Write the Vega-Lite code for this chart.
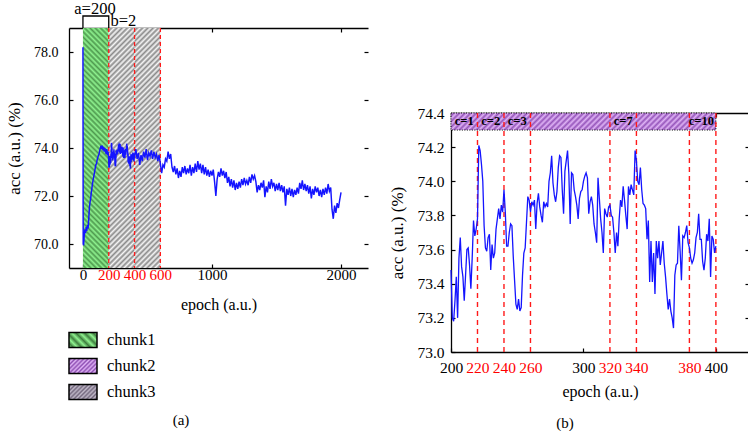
{
"$schema": "https://vega.github.io/schema/vega-lite/v6.json",
"padding": {"left": 5, "top": 1, "right": 1, "bottom": 1},
"config": {
  "font": "Liberation Serif, DejaVu Serif, serif",
  "view": {"stroke": null},
  "axis": {"grid": false, "domainColor": "black", "tickColor": "black", "titleColor": "black", "titleFontWeight": "normal", "domainWidth": 1.3, "tickWidth": 1.2, "labelFont": "Liberation Serif, DejaVu Serif, serif", "titleFont": "Liberation Serif, DejaVu Serif, serif"},
  "title": {"font": "Liberation Serif, DejaVu Serif, serif", "fontWeight": "normal", "fontSize": 15, "color": "black"},
  "text": {"font": "Liberation Serif, DejaVu Serif, serif", "color": "black"}
},
"datasets": {
"acc": [
{"e":0,"a":78.2},{"e":2,"a":70.0},{"e":5,"a":69.95},{"e":10,"a":70.35},{"e":15,"a":70.6},{"e":20,"a":70.45},{"e":25,"a":70.7},{"e":30,"a":70.55},{"e":35,"a":70.8},{"e":40,"a":70.65},{"e":45,"a":71.05},{"e":50,"a":71.5},{"e":55,"a":71.75},{"e":60,"a":71.9},{"e":65,"a":72.15},{"e":70,"a":72.35},{"e":75,"a":72.55},{"e":80,"a":72.7},{"e":85,"a":72.85},{"e":90,"a":73.0},{"e":95,"a":73.15},{"e":100,"a":73.3},{"e":105,"a":73.35},{"e":110,"a":73.5},{"e":115,"a":73.6},{"e":120,"a":73.7},{"e":125,"a":73.75},{"e":130,"a":73.9},{"e":135,"a":74.0},{"e":140,"a":74.1},{"e":145,"a":73.95},{"e":150,"a":74.1},{"e":155,"a":73.9},{"e":160,"a":74.05},{"e":165,"a":73.85},{"e":170,"a":74.0},{"e":175,"a":73.85},{"e":180,"a":73.75},{"e":185,"a":73.95},{"e":190,"a":73.7},{"e":195,"a":73.85},
{"e":200,"a":73.48},{"e":201,"a":73.20},{"e":202,"a":73.18},{"e":203,"a":73.30},{"e":204,"a":73.44},{"e":205,"a":73.20},{"e":206,"a":73.55},{"e":207,"a":73.67},{"e":208,"a":73.50},{"e":209,"a":73.44},{"e":210,"a":73.30},{"e":211,"a":73.45},{"e":212,"a":73.60},{"e":213,"a":73.61},{"e":214,"a":73.51},{"e":215,"a":73.37},{"e":216,"a":73.55},{"e":217,"a":73.77},{"e":218,"a":73.68},{"e":219,"a":73.72},
{"e":220,"a":73.78},{"e":221,"a":74.21},{"e":222,"a":74.18},{"e":223,"a":74.10},{"e":224,"a":74.00},{"e":225,"a":73.74},{"e":226,"a":73.61},{"e":227,"a":73.59},{"e":228,"a":73.67},{"e":229,"a":73.69},{"e":230,"a":73.48},{"e":231,"a":73.63},{"e":232,"a":73.55},{"e":233,"a":73.58},{"e":234,"a":73.72},{"e":235,"a":73.78},{"e":236,"a":73.84},{"e":237,"a":73.78},{"e":238,"a":73.86},{"e":239,"a":73.82},
{"e":240,"a":73.95},{"e":241,"a":73.82},{"e":242,"a":73.62},{"e":243,"a":73.62},{"e":244,"a":73.70},{"e":245,"a":73.75},{"e":246,"a":73.74},{"e":247,"a":73.56},{"e":248,"a":73.42},{"e":249,"a":73.28},{"e":250,"a":73.25},{"e":251,"a":73.31},{"e":252,"a":73.24},{"e":253,"a":73.26},{"e":254,"a":73.45},{"e":255,"a":73.58},{"e":256,"a":73.61},{"e":257,"a":73.76},{"e":258,"a":73.91},{"e":259,"a":73.89},
{"e":260,"a":73.82},{"e":261,"a":73.88},{"e":262,"a":73.86},{"e":263,"a":73.89},{"e":264,"a":73.72},{"e":265,"a":73.87},{"e":266,"a":73.93},{"e":267,"a":73.85},{"e":268,"a":73.80},{"e":269,"a":73.76},{"e":270,"a":73.88},{"e":271,"a":73.85},{"e":272,"a":73.87},{"e":273,"a":73.85},{"e":274,"a":74.00},{"e":275,"a":74.05},{"e":276,"a":74.15},{"e":277,"a":73.99},{"e":278,"a":73.92},{"e":279,"a":73.88},
{"e":280,"a":73.94},{"e":281,"a":74.08},{"e":282,"a":74.15},{"e":283,"a":74.14},{"e":284,"a":73.95},{"e":285,"a":73.81},{"e":286,"a":74.06},{"e":287,"a":74.12},{"e":288,"a":74.18},{"e":289,"a":74.04},{"e":290,"a":73.75},{"e":291,"a":74.05},{"e":292,"a":74.04},{"e":293,"a":73.95},{"e":294,"a":73.91},{"e":295,"a":73.86},{"e":296,"a":73.78},{"e":297,"a":73.90},{"e":298,"a":73.94},{"e":299,"a":73.95},
{"e":300,"a":74.00},{"e":301,"a":74.03},{"e":302,"a":74.05},{"e":303,"a":74.02},{"e":304,"a":73.81},{"e":305,"a":73.88},{"e":306,"a":73.91},{"e":307,"a":73.86},{"e":308,"a":73.75},{"e":309,"a":73.70},{"e":310,"a":73.64},{"e":311,"a":74.02},{"e":312,"a":73.90},{"e":313,"a":73.78},{"e":314,"a":73.70},{"e":315,"a":73.58},{"e":316,"a":73.84},{"e":317,"a":73.81},{"e":318,"a":73.79},{"e":319,"a":73.85},
{"e":320,"a":73.86},{"e":321,"a":73.80},{"e":322,"a":73.79},{"e":323,"a":73.70},{"e":324,"a":73.58},{"e":325,"a":73.70},{"e":326,"a":73.62},{"e":327,"a":73.78},{"e":328,"a":73.89},{"e":329,"a":73.85},{"e":330,"a":73.97},{"e":331,"a":73.89},{"e":332,"a":73.80},{"e":333,"a":73.72},{"e":334,"a":73.97},{"e":335,"a":73.92},{"e":336,"a":73.98},{"e":337,"a":73.95},{"e":338,"a":73.92},{"e":339,"a":74.18},
{"e":340,"a":74.12},{"e":341,"a":74.00},{"e":342,"a":73.98},{"e":343,"a":74.08},{"e":344,"a":73.95},{"e":345,"a":73.87},{"e":346,"a":73.86},{"e":347,"a":73.84},{"e":348,"a":73.66},{"e":349,"a":73.77},{"e":350,"a":73.41},{"e":351,"a":73.65},{"e":352,"a":73.41},{"e":353,"a":73.58},{"e":354,"a":73.34},{"e":355,"a":73.65},{"e":356,"a":73.55},{"e":357,"a":73.65},{"e":358,"a":73.51},{"e":359,"a":73.58},
{"e":360,"a":73.65},{"e":361,"a":73.52},{"e":362,"a":73.44},{"e":363,"a":73.34},{"e":364,"a":73.25},{"e":365,"a":73.31},{"e":366,"a":73.24},{"e":367,"a":73.20},{"e":368,"a":73.14},{"e":369,"a":73.45},{"e":370,"a":73.51},{"e":371,"a":73.52},{"e":372,"a":73.74},{"e":373,"a":73.59},{"e":374,"a":73.42},{"e":375,"a":73.68},{"e":376,"a":73.67},{"e":377,"a":73.70},{"e":378,"a":73.74},{"e":379,"a":73.64},
{"e":380,"a":73.61},{"e":381,"a":73.55},{"e":382,"a":73.52},{"e":383,"a":73.54},{"e":384,"a":73.58},{"e":385,"a":73.67},{"e":386,"a":73.70},{"e":387,"a":73.81},{"e":388,"a":73.66},{"e":389,"a":73.66},{"e":390,"a":73.53},{"e":391,"a":73.48},{"e":392,"a":73.55},{"e":393,"a":73.69},{"e":394,"a":73.65},{"e":395,"a":73.78},{"e":396,"a":73.44},{"e":397,"a":73.68},{"e":398,"a":73.66},{"e":399,"a":73.58},
{"e":400,"a":73.62},{"e":410,"a":73.95},{"e":420,"a":73.55},{"e":430,"a":73.80},{"e":440,"a":73.30},{"e":450,"a":73.70},{"e":460,"a":73.45},{"e":470,"a":73.85},{"e":480,"a":73.60},{"e":490,"a":73.95},{"e":500,"a":73.50},{"e":510,"a":73.80},{"e":520,"a":73.65},{"e":530,"a":73.90},{"e":540,"a":73.55},{"e":550,"a":73.85},{"e":560,"a":73.60},{"e":570,"a":73.75},{"e":580,"a":73.45},{"e":590,"a":73.70},
{"e":600,"a":73.35},{"e":610,"a":72.95},{"e":620,"a":73.30},{"e":630,"a":73.20},{"e":640,"a":73.55},{"e":650,"a":73.45},{"e":660,"a":73.85},{"e":670,"a":73.55},{"e":680,"a":73.75},{"e":690,"a":73.20},{"e":700,"a":73.00},{"e":710,"a":73.25},{"e":720,"a":72.90},{"e":730,"a":73.15},{"e":740,"a":72.75},{"e":750,"a":73.05},{"e":760,"a":72.80},{"e":770,"a":73.20},{"e":780,"a":72.95},{"e":790,"a":73.25},
{"e":800,"a":72.90},{"e":810,"a":73.15},{"e":820,"a":72.95},{"e":830,"a":73.30},{"e":840,"a":72.85},{"e":850,"a":73.20},{"e":860,"a":72.95},{"e":870,"a":73.35},{"e":880,"a":73.00},{"e":890,"a":73.45},{"e":900,"a":73.10},{"e":910,"a":73.35},{"e":920,"a":72.95},{"e":930,"a":73.30},{"e":940,"a":72.90},{"e":950,"a":73.20},{"e":960,"a":72.85},{"e":970,"a":73.10},{"e":980,"a":72.80},{"e":990,"a":73.05},
{"e":1000,"a":72.85},{"e":1010,"a":73.10},{"e":1020,"a":72.60},{"e":1030,"a":72.00},{"e":1040,"a":72.70},{"e":1050,"a":73.00},{"e":1060,"a":72.80},{"e":1070,"a":73.15},{"e":1080,"a":72.85},{"e":1090,"a":73.05},{"e":1100,"a":72.75},{"e":1110,"a":73.00},{"e":1120,"a":72.55},{"e":1130,"a":72.80},{"e":1140,"a":72.40},{"e":1150,"a":72.70},{"e":1160,"a":72.35},{"e":1170,"a":72.65},{"e":1180,"a":72.25},{"e":1190,"a":72.55},
{"e":1200,"a":72.30},{"e":1210,"a":72.60},{"e":1220,"a":72.35},{"e":1230,"a":72.70},{"e":1240,"a":72.45},{"e":1250,"a":72.75},{"e":1260,"a":72.50},{"e":1270,"a":72.65},{"e":1280,"a":72.45},{"e":1290,"a":72.80},{"e":1300,"a":72.55},{"e":1310,"a":72.90},{"e":1320,"a":72.70},{"e":1330,"a":72.85},{"e":1340,"a":72.60},{"e":1350,"a":72.15},{"e":1360,"a":72.45},{"e":1370,"a":72.25},{"e":1380,"a":72.55},{"e":1390,"a":72.35},
{"e":1400,"a":72.65},{"e":1410,"a":71.95},{"e":1420,"a":72.40},{"e":1430,"a":72.15},{"e":1440,"a":72.60},{"e":1450,"a":72.30},{"e":1460,"a":72.70},{"e":1470,"a":72.40},{"e":1480,"a":72.55},{"e":1490,"a":72.20},{"e":1500,"a":72.50},{"e":1510,"a":72.25},{"e":1520,"a":72.55},{"e":1530,"a":72.20},{"e":1540,"a":72.45},{"e":1550,"a":72.15},{"e":1560,"a":72.40},{"e":1570,"a":71.60},{"e":1580,"a":72.30},{"e":1590,"a":72.05},
{"e":1600,"a":72.35},{"e":1610,"a":72.00},{"e":1620,"a":72.30},{"e":1630,"a":71.95},{"e":1640,"a":72.25},{"e":1650,"a":72.05},{"e":1660,"a":72.35},{"e":1670,"a":72.10},{"e":1680,"a":72.55},{"e":1690,"a":72.30},{"e":1700,"a":72.65},{"e":1710,"a":72.25},{"e":1720,"a":72.50},{"e":1730,"a":72.20},{"e":1740,"a":72.45},{"e":1750,"a":72.10},{"e":1760,"a":72.40},{"e":1770,"a":71.90},{"e":1780,"a":72.30},{"e":1790,"a":72.05},
{"e":1800,"a":72.40},{"e":1810,"a":72.15},{"e":1820,"a":72.35},{"e":1830,"a":72.00},{"e":1840,"a":72.25},{"e":1850,"a":71.95},{"e":1860,"a":72.30},{"e":1870,"a":72.05},{"e":1880,"a":72.35},{"e":1890,"a":72.10},{"e":1900,"a":72.50},{"e":1910,"a":72.20},{"e":1920,"a":72.35},{"e":1930,"a":71.45},{"e":1940,"a":71.05},{"e":1950,"a":71.60},{"e":1960,"a":71.30},{"e":1970,"a":71.70},{"e":1980,"a":71.50},{"e":1990,"a":71.85},{"e":2000,"a":72.15}
]
},
"spacing": 19,
"hconcat": [
{
  "bounds": "flush",
  "spacing": 59,
  "vconcat": [
  {
    "width": 299,
    "height": 240,
    "resolve": {"axis": {"x": "independent", "y": "independent"}},
    "layer": [
      {
        "data": {"values": [{"s": 0, "t": 200}]},
        "mark": {"type": "rect", "fill": {"gradient": "linear", "x1": 0, "y1": 1, "x2": 0.118, "y2": -0.094, "stops": [{"offset":0,"color":"#8ff28f"},{"offset":0.01,"color":"#4f9a4f"},{"offset":0.02,"color":"#8ff28f"},{"offset":0.03,"color":"#4f9a4f"},{"offset":0.04,"color":"#8ff28f"},{"offset":0.05,"color":"#4f9a4f"},{"offset":0.06,"color":"#8ff28f"},{"offset":0.07,"color":"#4f9a4f"},{"offset":0.08,"color":"#8ff28f"},{"offset":0.09,"color":"#4f9a4f"},{"offset":0.1,"color":"#8ff28f"},{"offset":0.11,"color":"#4f9a4f"},{"offset":0.12,"color":"#8ff28f"},{"offset":0.13,"color":"#4f9a4f"},{"offset":0.14,"color":"#8ff28f"},{"offset":0.15,"color":"#4f9a4f"},{"offset":0.16,"color":"#8ff28f"},{"offset":0.17,"color":"#4f9a4f"},{"offset":0.18,"color":"#8ff28f"},{"offset":0.19,"color":"#4f9a4f"},{"offset":0.2,"color":"#8ff28f"},{"offset":0.21,"color":"#4f9a4f"},{"offset":0.22,"color":"#8ff28f"},{"offset":0.23,"color":"#4f9a4f"},{"offset":0.24,"color":"#8ff28f"},{"offset":0.25,"color":"#4f9a4f"},{"offset":0.26,"color":"#8ff28f"},{"offset":0.27,"color":"#4f9a4f"},{"offset":0.28,"color":"#8ff28f"},{"offset":0.29,"color":"#4f9a4f"},{"offset":0.3,"color":"#8ff28f"},{"offset":0.31,"color":"#4f9a4f"},{"offset":0.32,"color":"#8ff28f"},{"offset":0.33,"color":"#4f9a4f"},{"offset":0.34,"color":"#8ff28f"},{"offset":0.35,"color":"#4f9a4f"},{"offset":0.36,"color":"#8ff28f"},{"offset":0.37,"color":"#4f9a4f"},{"offset":0.38,"color":"#8ff28f"},{"offset":0.39,"color":"#4f9a4f"},{"offset":0.4,"color":"#8ff28f"},{"offset":0.41,"color":"#4f9a4f"},{"offset":0.42,"color":"#8ff28f"},{"offset":0.43,"color":"#4f9a4f"},{"offset":0.44,"color":"#8ff28f"},{"offset":0.45,"color":"#4f9a4f"},{"offset":0.46,"color":"#8ff28f"},{"offset":0.47,"color":"#4f9a4f"},{"offset":0.48,"color":"#8ff28f"},{"offset":0.49,"color":"#4f9a4f"},{"offset":0.5,"color":"#8ff28f"},{"offset":0.51,"color":"#4f9a4f"},{"offset":0.52,"color":"#8ff28f"},{"offset":0.53,"color":"#4f9a4f"},{"offset":0.54,"color":"#8ff28f"},{"offset":0.55,"color":"#4f9a4f"},{"offset":0.56,"color":"#8ff28f"},{"offset":0.57,"color":"#4f9a4f"},{"offset":0.58,"color":"#8ff28f"},{"offset":0.59,"color":"#4f9a4f"},{"offset":0.6,"color":"#8ff28f"},{"offset":0.61,"color":"#4f9a4f"},{"offset":0.62,"color":"#8ff28f"},{"offset":0.63,"color":"#4f9a4f"},{"offset":0.64,"color":"#8ff28f"},{"offset":0.65,"color":"#4f9a4f"},{"offset":0.66,"color":"#8ff28f"},{"offset":0.67,"color":"#4f9a4f"},{"offset":0.68,"color":"#8ff28f"},{"offset":0.69,"color":"#4f9a4f"},{"offset":0.7,"color":"#8ff28f"},{"offset":0.71,"color":"#4f9a4f"},{"offset":0.72,"color":"#8ff28f"},{"offset":0.73,"color":"#4f9a4f"},{"offset":0.74,"color":"#8ff28f"},{"offset":0.75,"color":"#4f9a4f"},{"offset":0.76,"color":"#8ff28f"},{"offset":0.77,"color":"#4f9a4f"},{"offset":0.78,"color":"#8ff28f"},{"offset":0.79,"color":"#4f9a4f"},{"offset":0.8,"color":"#8ff28f"},{"offset":0.81,"color":"#4f9a4f"},{"offset":0.82,"color":"#8ff28f"},{"offset":0.83,"color":"#4f9a4f"},{"offset":0.84,"color":"#8ff28f"},{"offset":0.85,"color":"#4f9a4f"},{"offset":0.86,"color":"#8ff28f"},{"offset":0.87,"color":"#4f9a4f"},{"offset":0.88,"color":"#8ff28f"},{"offset":0.89,"color":"#4f9a4f"},{"offset":0.9,"color":"#8ff28f"},{"offset":0.91,"color":"#4f9a4f"},{"offset":0.92,"color":"#8ff28f"},{"offset":0.93,"color":"#4f9a4f"},{"offset":0.94,"color":"#8ff28f"},{"offset":0.95,"color":"#4f9a4f"},{"offset":0.96,"color":"#8ff28f"},{"offset":0.97,"color":"#4f9a4f"},{"offset":0.98,"color":"#8ff28f"},{"offset":0.99,"color":"#4f9a4f"},{"offset":1,"color":"#8ff28f"}]}},
        "encoding": {
          "x": {"field": "s", "type": "quantitative", "scale": {"domain": [-108, 2209], "nice": false, "zero": false}, "axis": null},
          "x2": {"field": "t"},
          "y": {"datum": 69, "type": "quantitative", "scale": {"domain": [69, 79], "nice": false, "zero": false}, "axis": null},
          "y2": {"datum": 79}
        }
      },
      {
        "data": {"values": [{"s": 200, "t": 400}, {"s": 400, "t": 600}]},
        "mark": {"type": "rect", "fill": {"gradient": "linear", "x1": 0, "y1": 0, "x2": 0.118, "y2": 1.095, "stops": [{"offset":0,"color":"#f5f5f5"},{"offset":0.01,"color":"#8a8a8a"},{"offset":0.02,"color":"#f5f5f5"},{"offset":0.03,"color":"#8a8a8a"},{"offset":0.04,"color":"#f5f5f5"},{"offset":0.05,"color":"#8a8a8a"},{"offset":0.06,"color":"#f5f5f5"},{"offset":0.07,"color":"#8a8a8a"},{"offset":0.08,"color":"#f5f5f5"},{"offset":0.09,"color":"#8a8a8a"},{"offset":0.1,"color":"#f5f5f5"},{"offset":0.11,"color":"#8a8a8a"},{"offset":0.12,"color":"#f5f5f5"},{"offset":0.13,"color":"#8a8a8a"},{"offset":0.14,"color":"#f5f5f5"},{"offset":0.15,"color":"#8a8a8a"},{"offset":0.16,"color":"#f5f5f5"},{"offset":0.17,"color":"#8a8a8a"},{"offset":0.18,"color":"#f5f5f5"},{"offset":0.19,"color":"#8a8a8a"},{"offset":0.2,"color":"#f5f5f5"},{"offset":0.21,"color":"#8a8a8a"},{"offset":0.22,"color":"#f5f5f5"},{"offset":0.23,"color":"#8a8a8a"},{"offset":0.24,"color":"#f5f5f5"},{"offset":0.25,"color":"#8a8a8a"},{"offset":0.26,"color":"#f5f5f5"},{"offset":0.27,"color":"#8a8a8a"},{"offset":0.28,"color":"#f5f5f5"},{"offset":0.29,"color":"#8a8a8a"},{"offset":0.3,"color":"#f5f5f5"},{"offset":0.31,"color":"#8a8a8a"},{"offset":0.32,"color":"#f5f5f5"},{"offset":0.33,"color":"#8a8a8a"},{"offset":0.34,"color":"#f5f5f5"},{"offset":0.35,"color":"#8a8a8a"},{"offset":0.36,"color":"#f5f5f5"},{"offset":0.37,"color":"#8a8a8a"},{"offset":0.38,"color":"#f5f5f5"},{"offset":0.39,"color":"#8a8a8a"},{"offset":0.4,"color":"#f5f5f5"},{"offset":0.41,"color":"#8a8a8a"},{"offset":0.42,"color":"#f5f5f5"},{"offset":0.43,"color":"#8a8a8a"},{"offset":0.44,"color":"#f5f5f5"},{"offset":0.45,"color":"#8a8a8a"},{"offset":0.46,"color":"#f5f5f5"},{"offset":0.47,"color":"#8a8a8a"},{"offset":0.48,"color":"#f5f5f5"},{"offset":0.49,"color":"#8a8a8a"},{"offset":0.5,"color":"#f5f5f5"},{"offset":0.51,"color":"#8a8a8a"},{"offset":0.52,"color":"#f5f5f5"},{"offset":0.53,"color":"#8a8a8a"},{"offset":0.54,"color":"#f5f5f5"},{"offset":0.55,"color":"#8a8a8a"},{"offset":0.56,"color":"#f5f5f5"},{"offset":0.57,"color":"#8a8a8a"},{"offset":0.58,"color":"#f5f5f5"},{"offset":0.59,"color":"#8a8a8a"},{"offset":0.6,"color":"#f5f5f5"},{"offset":0.61,"color":"#8a8a8a"},{"offset":0.62,"color":"#f5f5f5"},{"offset":0.63,"color":"#8a8a8a"},{"offset":0.64,"color":"#f5f5f5"},{"offset":0.65,"color":"#8a8a8a"},{"offset":0.66,"color":"#f5f5f5"},{"offset":0.67,"color":"#8a8a8a"},{"offset":0.68,"color":"#f5f5f5"},{"offset":0.69,"color":"#8a8a8a"},{"offset":0.7,"color":"#f5f5f5"},{"offset":0.71,"color":"#8a8a8a"},{"offset":0.72,"color":"#f5f5f5"},{"offset":0.73,"color":"#8a8a8a"},{"offset":0.74,"color":"#f5f5f5"},{"offset":0.75,"color":"#8a8a8a"},{"offset":0.76,"color":"#f5f5f5"},{"offset":0.77,"color":"#8a8a8a"},{"offset":0.78,"color":"#f5f5f5"},{"offset":0.79,"color":"#8a8a8a"},{"offset":0.8,"color":"#f5f5f5"},{"offset":0.81,"color":"#8a8a8a"},{"offset":0.82,"color":"#f5f5f5"},{"offset":0.83,"color":"#8a8a8a"},{"offset":0.84,"color":"#f5f5f5"},{"offset":0.85,"color":"#8a8a8a"},{"offset":0.86,"color":"#f5f5f5"},{"offset":0.87,"color":"#8a8a8a"},{"offset":0.88,"color":"#f5f5f5"},{"offset":0.89,"color":"#8a8a8a"},{"offset":0.9,"color":"#f5f5f5"},{"offset":0.91,"color":"#8a8a8a"},{"offset":0.92,"color":"#f5f5f5"},{"offset":0.93,"color":"#8a8a8a"},{"offset":0.94,"color":"#f5f5f5"},{"offset":0.95,"color":"#8a8a8a"},{"offset":0.96,"color":"#f5f5f5"},{"offset":0.97,"color":"#8a8a8a"},{"offset":0.98,"color":"#f5f5f5"},{"offset":0.99,"color":"#8a8a8a"},{"offset":1,"color":"#f5f5f5"}]}},
        "encoding": {
          "x": {"field": "s", "type": "quantitative", "axis": null},
          "x2": {"field": "t"},
          "y": {"datum": 69, "type": "quantitative", "axis": null},
          "y2": {"datum": 79}
        }
      },
      {
        "data": {"values": [{"v": 200}, {"v": 400}, {"v": 600}]},
        "mark": {"type": "rule", "color": "#ff1a1a", "strokeDash": [4, 3], "strokeWidth": 1.3},
        "encoding": {"x": {"field": "v", "type": "quantitative", "axis": null}}
      },
      {
        "data": {"name": "acc"},
        "mark": {"type": "line", "color": "#1414ff", "strokeWidth": 1.45},
        "encoding": {
          "x": {"field": "e", "type": "quantitative", "scale": {"domain": [-108, 2209], "nice": false, "zero": false},
                "axis": {"orient": "bottom", "values": [0, 200, 400, 600, 1000, 2000], "format": "d", "labelFontSize": 15, "labelOverlap": false, "labelFlush": false, "tickSize": -4, "labelPadding": 3,
                         "labelColor": {"condition": {"test": "datum.value > 100 && datum.value < 700", "value": "#ff0000"}, "value": "black"},
                         "tickOpacity": {"condition": {"test": "datum.value > 100 && datum.value < 700", "value": 0}, "value": 1},
                         "title": "epoch (a.u.)", "titleFontSize": 16, "titlePadding": 14}},
          "y": {"field": "a", "type": "quantitative", "scale": {"domain": [69, 79], "nice": false, "zero": false},
                "axis": {"orient": "left", "values": [70, 72, 74, 76, 78], "format": ".1f", "labelFontSize": 14, "tickSize": -4, "labelPadding": 15, "title": "acc (a.u.) (%)", "titleFontSize": 17, "titlePadding": 10}}
        }
      },
      {
        "data": {"name": "acc"},
        "mark": {"type": "line", "strokeOpacity": 0},
        "encoding": {
          "x": {"field": "e", "type": "quantitative", "axis": {"orient": "top", "values": [1000, 2000], "labels": false, "tickSize": -4, "title": null}},
          "y": {"field": "a", "type": "quantitative", "axis": {"orient": "right", "values": [70, 72, 74, 76, 78], "labels": false, "domain": false, "tickSize": -4, "title": null}}
        }
      },
      {
        "data": {"values": [{"e": 0, "a": 79, "i": 0}, {"e": 0, "a": 79.5, "i": 1}, {"e": 200, "a": 79.5, "i": 2}, {"e": 200, "a": 79, "i": 3}]},
        "mark": {"type": "line", "color": "black", "strokeWidth": 1.3},
        "encoding": {
          "x": {"field": "e", "type": "quantitative", "axis": null},
          "y": {"field": "a", "type": "quantitative", "axis": null},
          "order": {"field": "i"}
        }
      },
      {
        "data": {"values": [{"e": 93, "a": 79.78, "t": "a=200"}, {"e": 314, "a": 79.3, "t": "b=2"}]},
        "mark": {"type": "text", "fontSize": 16.5, "baseline": "middle", "align": "center"},
        "encoding": {
          "x": {"field": "e", "type": "quantitative", "axis": null},
          "y": {"field": "a", "type": "quantitative", "axis": null},
          "text": {"field": "t"}
        }
      }
    ]
  },
  {
    "width": 224,
    "height": 78,
    "title": {"text": "(a)", "orient": "bottom", "fontSize": 15, "offset": 8},
    "layer": [
      {
        "data": {"values": [{"c": "chunk1"}]},
        "mark": {"type": "rect", "stroke": "black", "strokeWidth": 1.5, "fill": {"gradient": "linear", "x1": 0, "y1": 1, "x2": 1.193, "y2": 0.361, "stops": [{"offset":0,"color":"#8ff28f"},{"offset":0.1,"color":"#3f7f3f"},{"offset":0.2,"color":"#8ff28f"},{"offset":0.3,"color":"#3f7f3f"},{"offset":0.4,"color":"#8ff28f"},{"offset":0.5,"color":"#3f7f3f"},{"offset":0.6,"color":"#8ff28f"},{"offset":0.7,"color":"#3f7f3f"},{"offset":0.8,"color":"#8ff28f"},{"offset":0.9,"color":"#3f7f3f"},{"offset":1,"color":"#8ff28f"}]}},
        "encoding": {
          "x": {"datum": 0, "type": "quantitative", "scale": {"domain": [0, 224], "nice": false, "zero": false}, "axis": null},
          "x2": {"datum": 28},
          "y": {"field": "c", "type": "nominal", "scale": {"domain": ["chunk1", "chunk2", "chunk3"], "paddingInner": 0.423, "paddingOuter": 0.2115}, "axis": null}
        }
      },
      {
        "data": {"values": [{"c": "chunk2"}]},
        "mark": {"type": "rect", "stroke": "black", "strokeWidth": 1.5, "fill": {"gradient": "linear", "x1": 0, "y1": 0, "x2": 1.193, "y2": 0.639, "stops": [{"offset":0,"color":"#dfb3f5"},{"offset":0.05,"color":"#8e4fb3"},{"offset":0.1,"color":"#dfb3f5"},{"offset":0.15,"color":"#8e4fb3"},{"offset":0.2,"color":"#dfb3f5"},{"offset":0.25,"color":"#8e4fb3"},{"offset":0.3,"color":"#dfb3f5"},{"offset":0.35,"color":"#8e4fb3"},{"offset":0.4,"color":"#dfb3f5"},{"offset":0.45,"color":"#8e4fb3"},{"offset":0.5,"color":"#dfb3f5"},{"offset":0.55,"color":"#8e4fb3"},{"offset":0.6,"color":"#dfb3f5"},{"offset":0.65,"color":"#8e4fb3"},{"offset":0.7,"color":"#dfb3f5"},{"offset":0.75,"color":"#8e4fb3"},{"offset":0.8,"color":"#dfb3f5"},{"offset":0.85,"color":"#8e4fb3"},{"offset":0.9,"color":"#dfb3f5"},{"offset":0.95,"color":"#8e4fb3"},{"offset":1,"color":"#dfb3f5"}]}},
        "encoding": {
          "x": {"datum": 0, "type": "quantitative", "axis": null},
          "x2": {"datum": 28},
          "y": {"field": "c", "type": "nominal", "axis": null}
        }
      },
      {
        "data": {"values": [{"c": "chunk3"}]},
        "mark": {"type": "rect", "stroke": "black", "strokeWidth": 1.5, "fill": {"gradient": "linear", "x1": 0, "y1": 0, "x2": 1.193, "y2": 0.639, "stops": [{"offset":0,"color":"#c0b8c8"},{"offset":0.05,"color":"#74697e"},{"offset":0.1,"color":"#c0b8c8"},{"offset":0.15,"color":"#74697e"},{"offset":0.2,"color":"#c0b8c8"},{"offset":0.25,"color":"#74697e"},{"offset":0.3,"color":"#c0b8c8"},{"offset":0.35,"color":"#74697e"},{"offset":0.4,"color":"#c0b8c8"},{"offset":0.45,"color":"#74697e"},{"offset":0.5,"color":"#c0b8c8"},{"offset":0.55,"color":"#74697e"},{"offset":0.6,"color":"#c0b8c8"},{"offset":0.65,"color":"#74697e"},{"offset":0.7,"color":"#c0b8c8"},{"offset":0.75,"color":"#74697e"},{"offset":0.8,"color":"#c0b8c8"},{"offset":0.85,"color":"#74697e"},{"offset":0.9,"color":"#c0b8c8"},{"offset":0.95,"color":"#74697e"},{"offset":1,"color":"#c0b8c8"}]}},
        "encoding": {
          "x": {"datum": 0, "type": "quantitative", "axis": null},
          "x2": {"datum": 28},
          "y": {"field": "c", "type": "nominal", "axis": null}
        }
      },
      {
        "data": {"values": [{"c": "chunk1"}, {"c": "chunk2"}, {"c": "chunk3"}]},
        "mark": {"type": "text", "align": "left", "baseline": "middle", "fontSize": 16.5},
        "encoding": {
          "x": {"datum": 38, "type": "quantitative", "axis": null},
          "y": {"field": "c", "type": "nominal", "axis": null},
          "text": {"field": "c"}
        }
      }
    ]
  }
  ]
},
{
  "bounds": "flush",
  "spacing": 0,
  "vconcat": [
  {
    "width": 10,
    "height": 85,
    "data": {"values": []},
    "mark": "point",
    "encoding": {}
  },
  {
    "width": 298,
    "height": 239,
    "title": {"text": "(b)", "orient": "bottom", "fontSize": 15, "offset": 16, "dx": -35},
    "resolve": {"axis": {"x": "independent", "y": "independent"}},
    "layer": [
      {
        "data": {"values": [{"s": 200, "t": 400}]},
        "mark": {"type": "rect", "stroke": "black", "strokeWidth": 1, "strokeDash": [1, 1.5], "fill": {"gradient": "linear", "x1": 0, "y1": 0, "x2": 1.06, "y2": 0.068, "stops": [{"offset":0,"color":"#dfb3f5"},{"offset":0.01,"color":"#9656bb"},{"offset":0.02,"color":"#dfb3f5"},{"offset":0.03,"color":"#9656bb"},{"offset":0.04,"color":"#dfb3f5"},{"offset":0.05,"color":"#9656bb"},{"offset":0.06,"color":"#dfb3f5"},{"offset":0.07,"color":"#9656bb"},{"offset":0.08,"color":"#dfb3f5"},{"offset":0.09,"color":"#9656bb"},{"offset":0.1,"color":"#dfb3f5"},{"offset":0.11,"color":"#9656bb"},{"offset":0.12,"color":"#dfb3f5"},{"offset":0.13,"color":"#9656bb"},{"offset":0.14,"color":"#dfb3f5"},{"offset":0.15,"color":"#9656bb"},{"offset":0.16,"color":"#dfb3f5"},{"offset":0.17,"color":"#9656bb"},{"offset":0.18,"color":"#dfb3f5"},{"offset":0.19,"color":"#9656bb"},{"offset":0.2,"color":"#dfb3f5"},{"offset":0.21,"color":"#9656bb"},{"offset":0.22,"color":"#dfb3f5"},{"offset":0.23,"color":"#9656bb"},{"offset":0.24,"color":"#dfb3f5"},{"offset":0.25,"color":"#9656bb"},{"offset":0.26,"color":"#dfb3f5"},{"offset":0.27,"color":"#9656bb"},{"offset":0.28,"color":"#dfb3f5"},{"offset":0.29,"color":"#9656bb"},{"offset":0.3,"color":"#dfb3f5"},{"offset":0.31,"color":"#9656bb"},{"offset":0.32,"color":"#dfb3f5"},{"offset":0.33,"color":"#9656bb"},{"offset":0.34,"color":"#dfb3f5"},{"offset":0.35,"color":"#9656bb"},{"offset":0.36,"color":"#dfb3f5"},{"offset":0.37,"color":"#9656bb"},{"offset":0.38,"color":"#dfb3f5"},{"offset":0.39,"color":"#9656bb"},{"offset":0.4,"color":"#dfb3f5"},{"offset":0.41,"color":"#9656bb"},{"offset":0.42,"color":"#dfb3f5"},{"offset":0.43,"color":"#9656bb"},{"offset":0.44,"color":"#dfb3f5"},{"offset":0.45,"color":"#9656bb"},{"offset":0.46,"color":"#dfb3f5"},{"offset":0.47,"color":"#9656bb"},{"offset":0.48,"color":"#dfb3f5"},{"offset":0.49,"color":"#9656bb"},{"offset":0.5,"color":"#dfb3f5"},{"offset":0.51,"color":"#9656bb"},{"offset":0.52,"color":"#dfb3f5"},{"offset":0.53,"color":"#9656bb"},{"offset":0.54,"color":"#dfb3f5"},{"offset":0.55,"color":"#9656bb"},{"offset":0.56,"color":"#dfb3f5"},{"offset":0.57,"color":"#9656bb"},{"offset":0.58,"color":"#dfb3f5"},{"offset":0.59,"color":"#9656bb"},{"offset":0.6,"color":"#dfb3f5"},{"offset":0.61,"color":"#9656bb"},{"offset":0.62,"color":"#dfb3f5"},{"offset":0.63,"color":"#9656bb"},{"offset":0.64,"color":"#dfb3f5"},{"offset":0.65,"color":"#9656bb"},{"offset":0.66,"color":"#dfb3f5"},{"offset":0.67,"color":"#9656bb"},{"offset":0.68,"color":"#dfb3f5"},{"offset":0.69,"color":"#9656bb"},{"offset":0.7,"color":"#dfb3f5"},{"offset":0.71,"color":"#9656bb"},{"offset":0.72,"color":"#dfb3f5"},{"offset":0.73,"color":"#9656bb"},{"offset":0.74,"color":"#dfb3f5"},{"offset":0.75,"color":"#9656bb"},{"offset":0.76,"color":"#dfb3f5"},{"offset":0.77,"color":"#9656bb"},{"offset":0.78,"color":"#dfb3f5"},{"offset":0.79,"color":"#9656bb"},{"offset":0.8,"color":"#dfb3f5"},{"offset":0.81,"color":"#9656bb"},{"offset":0.82,"color":"#dfb3f5"},{"offset":0.83,"color":"#9656bb"},{"offset":0.84,"color":"#dfb3f5"},{"offset":0.85,"color":"#9656bb"},{"offset":0.86,"color":"#dfb3f5"},{"offset":0.87,"color":"#9656bb"},{"offset":0.88,"color":"#dfb3f5"},{"offset":0.89,"color":"#9656bb"},{"offset":0.9,"color":"#dfb3f5"},{"offset":0.91,"color":"#9656bb"},{"offset":0.92,"color":"#dfb3f5"},{"offset":0.93,"color":"#9656bb"},{"offset":0.94,"color":"#dfb3f5"},{"offset":0.95,"color":"#9656bb"},{"offset":0.96,"color":"#dfb3f5"},{"offset":0.97,"color":"#9656bb"},{"offset":0.98,"color":"#dfb3f5"},{"offset":0.99,"color":"#9656bb"},{"offset":1,"color":"#dfb3f5"}]}},
        "encoding": {
          "x": {"field": "s", "type": "quantitative", "scale": {"domain": [200, 425], "nice": false, "zero": false}, "axis": null},
          "x2": {"field": "t"},
          "y": {"datum": 74.3, "type": "quantitative", "scale": {"domain": [73.0, 74.4], "nice": false, "zero": false}, "axis": null},
          "y2": {"datum": 74.4}
        }
      },
      {
        "data": {"values": [{"v": 220}, {"v": 240}, {"v": 260}, {"v": 320}, {"v": 340}, {"v": 380}, {"v": 400}]},
        "mark": {"type": "rule", "color": "#ff1a1a", "strokeDash": [5, 4], "strokeWidth": 1.4},
        "encoding": {"x": {"field": "v", "type": "quantitative", "axis": null}}
      },
      {
        "data": {"values": [{"e": 210, "t": "c=1"}, {"e": 230, "t": "c=2"}, {"e": 250, "t": "c=3"}, {"e": 330, "t": "c=7"}, {"e": 389, "t": "c=10"}]},
        "mark": {"type": "text", "fontSize": 12.5, "fontWeight": "bold", "baseline": "middle", "align": "center"},
        "encoding": {
          "x": {"field": "e", "type": "quantitative", "axis": null},
          "y": {"datum": 74.352, "type": "quantitative", "axis": null},
          "text": {"field": "t"}
        }
      },
      {
        "data": {"name": "acc"},
        "transform": [{"filter": "datum.e >= 200 && datum.e <= 400"}],
        "mark": {"type": "line", "color": "#1414ff", "strokeWidth": 1.3},
        "encoding": {
          "x": {"field": "e", "type": "quantitative", "scale": {"domain": [200, 425], "nice": false, "zero": false},
                "axis": {"orient": "bottom", "values": [200, 220, 240, 260, 300, 320, 340, 380, 400], "format": "d", "labelFontSize": 15.5, "labelOverlap": false, "labelFlush": false, "tickSize": -4, "labelPadding": 12,
                         "labelColor": {"condition": {"test": "datum.value % 100 != 0", "value": "#ff0000"}, "value": "black"},
                         "tickOpacity": {"condition": {"test": "datum.value % 100 != 0", "value": 0}, "value": 1},
                         "title": "epoch (a.u.)", "titleFontSize": 16, "titlePadding": 8}},
          "y": {"field": "a", "type": "quantitative", "scale": {"domain": [73.0, 74.4], "nice": false, "zero": false},
                "axis": {"orient": "left", "values": [73.0, 73.2, 73.4, 73.6, 73.8, 74.0, 74.2, 74.4], "format": ".1f", "labelFontSize": 15.5, "tickSize": -4, "labelPadding": 11, "title": "acc (a.u.) (%)", "titleFontSize": 17, "titlePadding": 10}}
        }
      },
      {
        "data": {"name": "acc"},
        "transform": [{"filter": "datum.e >= 200 && datum.e <= 400"}],
        "mark": {"type": "line", "strokeOpacity": 0},
        "encoding": {
          "x": {"field": "e", "type": "quantitative", "axis": {"orient": "top", "values": [200, 300, 400], "labels": false, "tickSize": -4, "title": null}},
          "y": {"field": "a", "type": "quantitative", "axis": {"orient": "right", "values": [73.2, 73.4, 73.6, 73.8, 74.0, 74.2], "labels": false, "domain": false, "tickSize": -4, "title": null}}
        }
      }
    ]
  }
  ]
}
]
}
